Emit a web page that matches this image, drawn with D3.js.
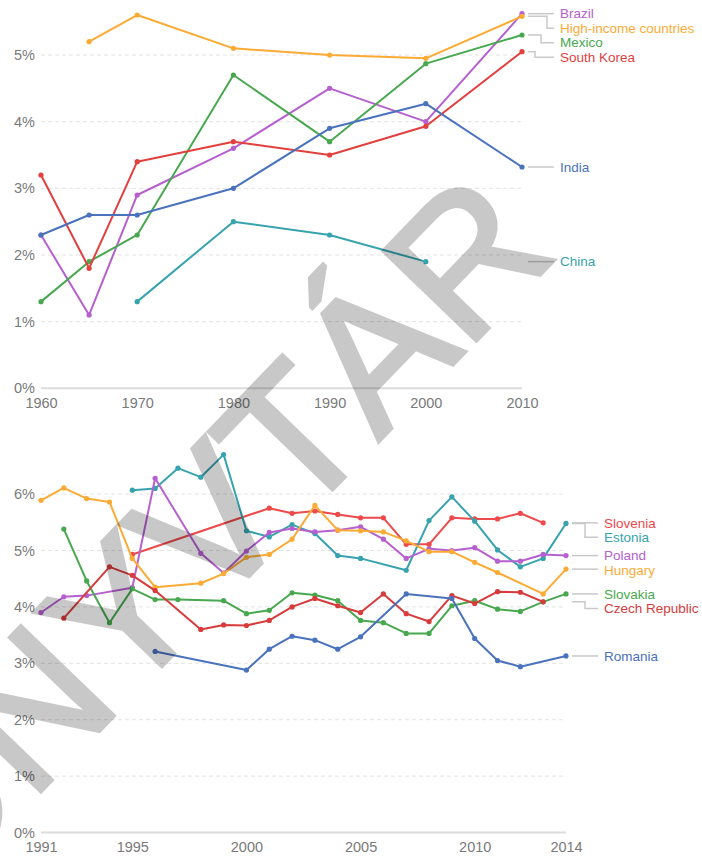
<!DOCTYPE html>
<html>
<head>
<meta charset="utf-8">
<script src="https://cdn.jsdelivr.net/npm/d3@7"></script>
<style>
  html, body { margin: 0; padding: 0; background: #fff; }
  svg { display: block; font-family: "Liberation Sans", Arial, sans-serif; }
</style>
</head>
<body>
<svg id="chart" width="702" height="856"></svg>
<script>
// ---- Top panel: world comparison, decade points ----
const topYears = [1960, 1965, 1970, 1980, 1990, 2000, 2010];
const brazil      = [2.3, 1.1, 2.9, 3.6, 4.5, 4.0, 5.62];
const highIncome  = [null, 5.2, 5.6, 5.1, 5.0, 4.95, 5.58];
const mexico      = [1.3, 1.9, 2.3, 4.7, 3.7, 4.87, 5.3];
const southKorea  = [3.2, 1.8, 3.4, 3.7, 3.5, 3.93, 5.05];
const india       = [2.3, 2.6, 2.6, 3.0, 3.9, 4.27, 3.32];
const china       = [null, null, 1.3, 2.5, 2.3, 1.9, null];
const topTicksY   = [0, 1, 2, 3, 4, 5];
const topTicksX   = [1960, 1970, 1980, 1990, 2000, 2010];

// ---- Bottom panel: Central and Eastern Europe, yearly ----
const bottomYears = d3.range(1991, 2015);
const slovenia = [null, null, null, null, 4.93, null, null, null, null, null, 5.75, 5.66, 5.70, 5.64, 5.58, 5.58, 5.11, 5.11, 5.58, 5.56, 5.56, 5.66, 5.49, null];
const estonia  = [null, null, null, null, 6.07, 6.10, 6.46, 6.30, 6.70, 5.35, 5.24, 5.46, 5.30, 4.91, 4.86, null, 4.65, 5.53, 5.95, 5.52, 5.01, 4.71, 4.86, 5.48];
const poland   = [3.90, 4.18, 4.20, null, 4.34, 6.28, null, 4.95, 4.60, 4.99, 5.32, 5.39, 5.33, 5.36, 5.42, 5.20, 4.86, 5.03, 5.00, 5.05, 4.81, 4.81, 4.93, 4.91];
const hungary  = [5.89, 6.11, 5.92, 5.86, 4.86, 4.35, null, 4.42, 4.59, 4.88, 4.93, 5.20, 5.80, 5.36, 5.35, 5.33, 5.17, 4.98, 4.98, 4.79, 4.61, null, 4.23, 4.67];
const slovakia = [null, 5.38, 4.46, 3.72, 4.32, 4.13, 4.13, null, 4.11, 3.88, 3.94, 4.25, 4.21, 4.11, 3.76, 3.72, 3.53, 3.53, 4.02, 4.11, 3.96, 3.92, 4.09, 4.23];
const czech    = [null, 3.80, null, 4.71, 4.56, 4.29, null, 3.60, 3.68, 3.67, 3.76, 4.00, 4.15, 4.02, 3.90, 4.23, 3.88, 3.74, 4.20, 4.06, 4.27, 4.26, 4.09, null];
const romania  = [null, null, null, null, null, 3.21, null, null, null, 2.88, 3.25, 3.48, 3.41, 3.25, 3.47, null, 4.23, null, 4.15, 3.44, 3.05, 2.94, null, 3.13];
const bottomTicksY = [0, 1, 2, 3, 4, 5, 6];
const bottomTicksX = [1991, 1995, 2000, 2005, 2010, 2014];

const topSeries = [
  { name: "Brazil", values: brazil, color: "#b660d0" },
  { name: "High-income countries", values: highIncome, color: "#fbab34" },
  { name: "Mexico", values: mexico, color: "#48a84f" },
  { name: "South Korea", values: southKorea, color: "#e23f3f" },
  { name: "India", values: india, color: "#4a72bd" },
  { name: "China", values: china, color: "#37a3ae" }
];
const bottomSeries = [
  { name: "Slovenia", values: slovenia, color: "#ee4a4c" },
  { name: "Estonia", values: estonia, color: "#37a3ae" },
  { name: "Poland", values: poland, color: "#b660d0" },
  { name: "Hungary", values: hungary, color: "#fbab34" },
  { name: "Slovakia", values: slovakia, color: "#48a84f" },
  { name: "Czech Republic", values: czech, color: "#d73b3c" },
  { name: "Romania", values: romania, color: "#4a72bd" }
];

const svg = d3.select("#chart");
const AXIS_COLOR = "#7a7a7a";

function drawPanel(cfg) {
  const g = svg.append("g");
  const x = d3.scaleLinear().domain(cfg.xDomain).range(cfg.xRange);
  const y = d3.scaleLinear().domain([0, 5]).range(cfg.yRange);

  // grid lines
  g.selectAll("line.grid").data(cfg.ticksY).join("line")
    .attr("x1", cfg.xRange[0]).attr("x2", cfg.xRange[1])
    .attr("y1", d => y(d)).attr("y2", d => y(d))
    .attr("stroke", d => d === 0 ? "#dcdcdc" : "#e3e3e3")
    .attr("stroke-width", d => d === 0 ? 2 : 1)
    .attr("stroke-dasharray", d => d === 0 ? null : "4,3");

  // y axis labels
  const yAxis = d3.axisLeft(y).tickValues(cfg.ticksY).tickFormat(d => d + "%").tickSize(0).tickPadding(0);
  const ya = g.append("g").attr("transform", `translate(${cfg.xRange[0] - 6},0)`).call(yAxis);
  ya.select(".domain").remove();
  ya.selectAll("text").attr("fill", AXIS_COLOR).style("font-size", "14.5px")
    .attr("font-family", "Liberation Sans, Arial, sans-serif");

  // x axis labels
  const xAxis = d3.axisBottom(x).tickValues(cfg.ticksX).tickFormat(d3.format("d")).tickSize(0).tickPadding(0);
  const xa = g.append("g").attr("transform", `translate(0,${cfg.yRange[0] + 9})`).call(xAxis);
  xa.select(".domain").remove();
  xa.selectAll("text").attr("fill", AXIS_COLOR).style("font-size", "14.5px")
    .attr("font-family", "Liberation Sans, Arial, sans-serif");

  const line = d3.line().x(d => x(d.year)).y(d => y(d.value));

  const series = cfg.series.map(s => {
    const pts = cfg.years.map((yr, i) => ({ year: yr, value: s.values[i] }))
      .filter(p => p.value !== null);
    return { ...s, pts };
  });

  series.forEach(s => {
    g.append("path").datum(s.pts)
      .attr("d", line).attr("fill", "none")
      .attr("stroke", s.color).attr("stroke-width", 2)
      .attr("stroke-linejoin", "round");
    g.selectAll(null).data(s.pts).join("circle")
      .attr("cx", d => x(d.year)).attr("cy", d => y(d.value))
      .attr("r", 2.6).attr("fill", s.color);
  });

  // end labels with simple collision avoidance
  const labels = series.map(s => {
    const last = s.pts[s.pts.length - 1];
    return { name: s.name, color: s.color, endY: y(last.value) };
  }).sort((a, b) => a.endY - b.endY);
  const gap = 14.5;
  labels.forEach((l, i) => {
    l.ly = i === 0 ? l.endY : Math.max(l.endY, labels[i - 1].ly + gap);
    l.moved = l.ly - l.endY > 1.5;
  });
  // stagger elbows within runs of displaced labels
  const x0 = cfg.xRange[1] + 6, x1 = cfg.xRange[1] + 32;
  const mid = (x0 + x1) / 2;
  let i = 0;
  while (i < labels.length) {
    if (!labels[i].moved) { labels[i].ex = mid; i++; continue; }
    let j = i;
    while (j < labels.length && labels[j].moved) j++;
    const n = j - i;
    for (let k = 0; k < n; k++) labels[i + k].ex = mid + 6 * ((n - 1) / 2 - k);
    i = j;
  }

  labels.forEach(l => {
    const path = l.moved
      ? `M${x0},${l.endY}H${l.ex}V${l.ly}H${x1}`
      : `M${x0},${l.endY}H${x1}`;
    g.append("path").attr("d", path).attr("fill", "none")
      .attr("stroke", "#c9c9c9").attr("stroke-width", 1.5);
    g.append("text").attr("x", x1 + 6).attr("y", l.ly).attr("dy", "0.35em")
      .attr("fill", l.color).style("font-size", "13.5px").text(l.name);
  });
}

drawPanel({
  years: topYears, series: topSeries,
  xDomain: [1960, 2010], xRange: [41, 522],
  yRange: [388.3, 55], ticksY: topTicksY, ticksX: topTicksX
});

drawPanel({
  years: bottomYears, series: bottomSeries,
  xDomain: [1991, 2014], xRange: [41, 566],
  yRange: [832.5, 550.5], ticksY: bottomTicksY, ticksX: bottomTicksX
});

// translucent diagonal stamp over the charts
svg.append("g").attr("opacity", 0.21)
  .append("text")
  .attr("transform", "translate(560,254) rotate(-46)")
  .attr("text-anchor", "end")
  .attr("fill", "#000").attr("stroke", "#000").attr("stroke-width", 4)
  .style("font-size", "188px")
  .text("KÖNYVTÁR");
</script>
</body>
</html>
